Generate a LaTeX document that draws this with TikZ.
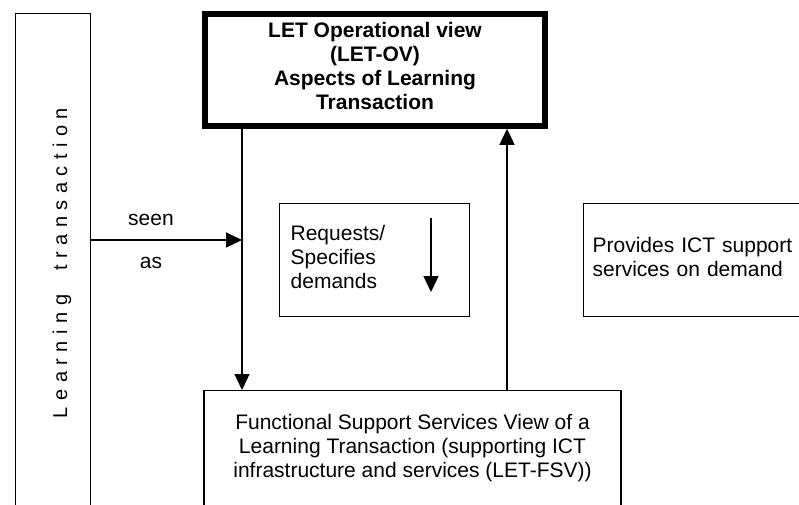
\documentclass[tikz,border=0pt]{standalone}
\usepackage{fontspec}
\setmainfont{Liberation Sans}
\usepackage{tikz}
\usetikzlibrary{arrows.meta}
\newcommand{\lowerby}[1]{\rule[-#1]{0pt}{#1}}

\begin{document}
\begin{tikzpicture}[x=1pt, y=-1pt,
    font=\fontsize{21}{24}\selectfont,
    box/.style={draw, line width=1.3pt},
    viewbox/.style={draw, line width=5.5pt, font=\fontsize{21}{24}\selectfont\bfseries, align=center},
    flow/.style={line width=1.3pt, -{Triangle[length=16pt,width=15pt]}}]
  % page frame
  \useasboundingbox (0,0) rectangle (799,504);
  \clip (0,0) rectangle (799,504);

  % strip on the left (runs off the page)
  \node[box, anchor=north west, minimum width=75pt, minimum height=520pt] (strip) at (15,13) {};
  \node[rotate=90, anchor=base, font=\fontsize{20}{24}\selectfont] (striptext) at (67,263)
    {\spaceskip=6.5pt L e a r n i n g\hspace{24pt}t r a n s a c t i o n};

  % operational view box
  \node[viewbox, minimum width=340pt, minimum height=112pt] (opview) at (375,70)
    {LET Operational view\\(LET-OV)\\Aspects of Learning\\Transaction\lowerby{8pt}};

  % requests box
  \node[box, anchor=north west, text width=168pt, inner xsep=11pt, minimum height=113pt, align=left] (requests) at (279,203)
    {Requests/\\Specifies\\demands\lowerby{6pt}};

  % provides box (runs off the page)
  \node[box, anchor=north west, text width=240pt, inner xsep=9pt, minimum height=113pt, align=left] (provides) at (583,203)
    {Provides ICT support\\services on demand\lowerby{6pt}};

  % functional support services box
  \node[box, anchor=north, minimum width=417pt, inner ysep=24pt, align=center] (fsv) at (412.5,390)
    {Functional Support Services View of a\\Learning Transaction (supporting ICT\\infrastructure and services (LET-FSV))};

  % columns of the long arrows
  \coordinate (downx) at (242,0);
  \coordinate (upx) at (507,0);
  \coordinate (seenrow) at (0,240);

  \draw[flow] (opview.south -| downx) -- (fsv.north -| downx);
  \draw[flow] (fsv.north -| upx) -- (opview.south -| upx);
  \draw[flow] (strip.east |- seenrow) -- (downx |- seenrow);

  \node[anchor=base] (seen) at (151,225) {seen};
  \node[anchor=base] (as) at (151,268) {as};

  % arrow inside the requests box
  \coordinate (reqtop) at (431,218);
  \coordinate (reqbot) at (431,292);
  \draw[flow] (reqtop) -- (reqbot);
\end{tikzpicture}
\end{document}
